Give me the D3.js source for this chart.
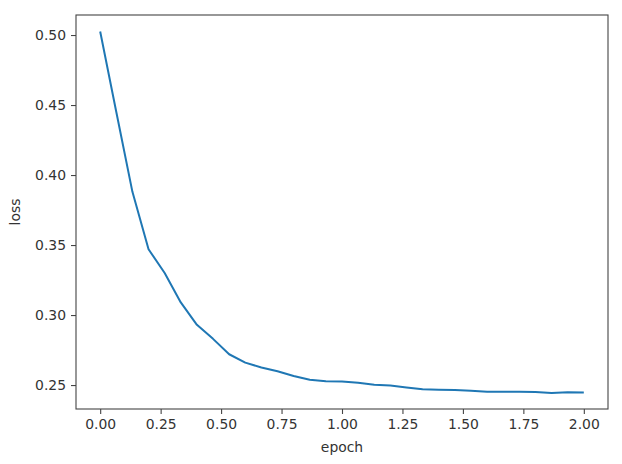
<!DOCTYPE html>
<html>
<head>
<meta charset="utf-8">
<script src="https://cdn.jsdelivr.net/npm/d3@7"></script>
<style>
  body { margin: 0; background: #fff; }
  text { font-family: "DejaVu Sans", sans-serif; fill: #333; }
</style>
</head>
<body>
<svg id="chart"></svg>
<script>
// loss per evaluation step, one every 1/15 epoch
var steps = d3.range(0, 31);
var epochs = steps.map(function(i) { return i / 15; });
var losses = [0.5025, 0.445, 0.388, 0.347, 0.330, 0.309, 0.293, 0.283, 0.272, 0.266,
              0.2625, 0.2598, 0.2565, 0.2538, 0.2528, 0.2525, 0.2517, 0.2502, 0.2497, 0.2483,
              0.2470, 0.2467, 0.2464, 0.2459, 0.2453, 0.2452, 0.2452, 0.2451, 0.2444, 0.2448, 0.2447];
var xTicks = [0, 0.25, 0.5, 0.75, 1.0, 1.25, 1.5, 1.75, 2.0];
var yTicks = [0.25, 0.30, 0.35, 0.40, 0.45, 0.50];

var width = 622, height = 464;
var margin = {top: 15, right: 14, bottom: 55, left: 76};
var svg = d3.select("#chart").attr("width", width).attr("height", height);

var x = d3.scaleLinear().domain([-0.1, 2.1]).range([margin.left, width - margin.right]);
var y = d3.scaleLinear().domain([0.2329, 0.5143]).range([height - margin.bottom, margin.top]);

var data = epochs.map(function(e, i) { return {epoch: e, loss: losses[i]}; });

// line
var line = d3.line()
  .x(function(d) { return x(d.epoch); })
  .y(function(d) { return y(d.loss); });
svg.append("path")
  .datum(data)
  .attr("d", line)
  .attr("fill", "none")
  .attr("stroke", "#1f77b4")
  .attr("stroke-width", 2)
  .attr("stroke-linejoin", "round");

// axes
var xAxis = svg.append("g")
  .attr("transform", "translate(0," + (height - margin.bottom) + ")")
  .call(d3.axisBottom(x).tickValues(xTicks).tickFormat(d3.format(".2f")).tickSize(5).tickPadding(5));
var yAxis = svg.append("g")
  .attr("transform", "translate(" + margin.left + ",0)")
  .call(d3.axisLeft(y).tickValues(yTicks).tickFormat(d3.format(".2f")).tickSize(5).tickPadding(5));
[xAxis, yAxis].forEach(function(a) {
  a.select(".domain").remove();
  a.selectAll(".tick line").attr("stroke", "#444").attr("stroke-width", 1.1);
  a.selectAll(".tick text").style("font-size", "13.9px").style("font-family", "DejaVu Sans").attr("fill", "#333");
});

// frame
svg.append("rect")
  .attr("x", margin.left)
  .attr("y", margin.top)
  .attr("width", width - margin.left - margin.right)
  .attr("height", height - margin.top - margin.bottom)
  .attr("fill", "none")
  .attr("stroke", "#444")
  .attr("stroke-width", 1.1);

// axis labels
svg.append("text")
  .attr("x", (margin.left + width - margin.right) / 2)
  .attr("y", 452)
  .attr("text-anchor", "middle")
  .style("font-size", "13.9px")
  .text("epoch");
svg.append("text")
  .attr("transform", "translate(20," + ((margin.top + height - margin.bottom) / 2) + ") rotate(-90)")
  .attr("text-anchor", "middle")
  .style("font-size", "13.9px")
  .text("loss");
</script>
</body>
</html>
